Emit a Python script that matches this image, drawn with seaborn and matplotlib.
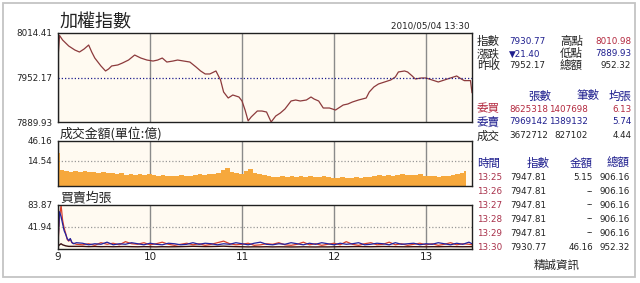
import numpy as np
import pandas as pd
import matplotlib
matplotlib.use("Agg")
import matplotlib.pyplot as plt
import seaborn as sns
from matplotlib.patches import Rectangle

sns.set_theme(style="white")
plt.rcParams["font.family"] = ["DejaVu Sans"]
CJK = ["Noto Sans CJK TC", "DejaVu Sans"]

# ---------------- data ----------------
price_times = ["09:00", "09:01", "09:03", "09:07", "09:11", "09:14", "09:17", "09:20",
               "09:22", "09:24", "09:28", "09:31", "09:33", "09:35", "09:39", "09:42",
               "09:46", "09:50", "09:54", "09:58", "10:02", "10:05", "10:08", "10:11",
               "10:15", "10:18", "10:22", "10:26", "10:30", "10:33", "10:36", "10:39",
               "10:43", "10:46", "10:48", "10:51", "10:54", "10:58", "11:00", "11:02",
               "11:04", "11:06", "11:10", "11:13", "11:16", "11:19", "11:22", "11:25",
               "11:28", "11:32", "11:35", "11:38", "11:42", "11:45", "11:47", "11:50",
               "11:53", "11:57", "12:01", "12:06", "12:09", "12:12", "12:16", "12:21",
               "12:23", "12:26", "12:29", "12:33", "12:37", "12:40", "12:42", "12:46",
               "12:48", "12:51", "12:53", "12:57", "13:00", "13:04", "13:08", "13:12",
               "13:16", "13:20", "13:23", "13:25", "13:29", "13:30"]
price_values = [7979.4, 8010.98, 8004.6, 7996.2, 7990.6, 7987.8, 7992.0, 7997.6,
                7987.8, 7979.4, 7968.3, 7961.3, 7964.1, 7968.3, 7969.7, 7972.4,
                7976.6, 7983.6, 7979.4, 7976.6, 7975.2, 7976.6, 7979.4, 7973.8,
                7975.2, 7976.6, 7975.2, 7973.8, 7966.9, 7961.3, 7957.1, 7957.1,
                7961.3, 7948.7, 7931.9, 7923.5, 7927.7, 7924.9, 7919.3, 7906.7,
                7891.5, 7897.0, 7905.3, 7905.3, 7903.9, 7889.93, 7898.3, 7902.5,
                7908.1, 7919.3, 7920.7, 7919.3, 7920.7, 7924.9, 7922.1, 7919.3,
                7909.5, 7909.5, 7906.7, 7913.7, 7915.1, 7917.9, 7920.7, 7923.5,
                7931.9, 7938.9, 7943.1, 7945.9, 7948.7, 7952.9, 7959.9, 7961.3,
                7959.9, 7954.3, 7950.1, 7951.5, 7951.5, 7948.7, 7945.9, 7948.7,
                7951.5, 7954.3, 7950.1, 7947.81, 7947.81, 7930.77]
prev_close = 7952.17
price_ticks = [8014.41, 7952.17, 7889.93]

# per-minute traded amount (億), sampled every 3 minutes from 09:01
vol_grid_minutes = list(range(1, 263, 3))
vol_grid_values = [5.9, 5.0, 4.6, 5.2, 4.4, 4.8, 4.2, 4.5, 3.9, 4.2, 3.6, 3.9, 3.3, 3.6,
                   3.0, 3.4, 2.9, 3.2, 2.8, 3.1, 2.6, 2.4, 2.7, 2.2, 2.5, 2.3, 2.6, 2.2,
                   2.5, 2.8, 3.3, 3.0, 3.5, 3.1, 3.6, 5.5, 7.5, 4.2, 3.6, 3.3, 5.0, 6.7,
                   3.9, 3.3, 2.8, 2.5, 2.0, 1.9, 2.1, 1.8, 2.4, 2.0, 2.2, 1.9, 2.1, 1.8,
                   2.0, 2.5, 1.9, 1.6, 1.5, 1.7, 1.5, 1.6, 1.8, 1.6, 1.7, 2.0, 2.4, 3.0,
                   2.5, 2.7, 2.4, 2.9, 3.3, 2.8, 2.6, 2.9, 3.5, 2.4, 2.1, 2.3, 2.0, 2.2,
                   2.4, 2.8, 3.2, 3.9]
vol_open = 25.0      # 09:00
vol_1325 = 5.15      # 13:25
vol_close = 46.16    # 13:30
vol_ticks = [46.16, 14.54]

# average lots per order: buy (委買), sell (委賣), trade (成交)
avg_minutes = list(range(0, 13)) + list(range(16, 269, 4)) + [270]
avg_buy = [10, 60, 83.87, 55, 40, 30, 18, 15, 19, 12, 11, 10, 9,
           8, 10, 7, 12, 9, 11, 8, 14,
           10, 9, 12, 8, 10, 13, 9, 7,
           9, 11, 8, 10, 7, 9, 12, 15,
           10, 8, 9, 11, 7, 8, 10, 9,
           12, 8, 7, 9, 13, 8, 10, 7,
           9, 11, 8, 14, 9, 7, 10, 12,
           8, 9, 13, 8, 10, 7, 9, 11,
           8, 10, 7, 9, 12, 8, 10, 9,
           8]
avg_sell = [12, 71, 62, 48, 35, 28, 20, 16, 20, 13, 10, 11, 12,
            11, 8, 10, 9, 13, 8, 10, 9,
            12, 10, 8, 11, 9, 8, 11, 10,
            8, 9, 12, 9, 11, 10, 8, 10,
            9, 12, 10, 8, 11, 13, 9, 8,
            10, 9, 12, 10, 8, 11, 9, 12,
            10, 8, 11, 9, 10, 12, 8, 9,
            11, 10, 8, 12, 9, 10, 11, 8,
            10, 9, 12, 10, 8, 11, 9, 13,
            10]
avg_trade = [5, 8, 10, 8, 7, 6, 5.5, 5, 5, 5, 5, 5, 5,
             5, 4.5, 4.8, 4.4, 4.6, 4.3, 4.5, 4.7,
             4.4, 4.2, 4.5, 4.3, 4.1, 4.4, 4.2, 4.3,
             4.5, 4.8, 5.2, 4.9, 4.6, 4.7, 5.0, 5.4,
             4.8, 4.5, 4.3, 4.0, 4.2, 4.1, 4.3, 4.0,
             4.2, 4.1, 3.9, 4.0, 4.2, 4.0, 3.9, 4.1,
             4.0, 4.2, 4.4, 4.3, 4.5, 4.6, 4.4, 4.3,
             4.5, 4.7, 4.6, 4.4, 4.3, 4.2, 4.4, 4.3,
             4.2, 4.4, 4.3, 4.5, 4.6, 4.4, 4.3, 4.4,
             4.4]
avg_ticks = [83.87, 41.94]

hour_ticks = [0, 60, 120, 180, 240]
hour_labels = ["9", "10", "11", "12", "13"]

# ---------------- helpers ----------------
def tmin(s):
    h, m = s.split(":")
    return (int(h) - 9) * 60 + int(m)

W, H = 640, 283
def rect(l, t, r, b):
    return [l / W, 1 - b / H, (r - l) / W, (b - t) / H]

NAVY = "#1e1e8e"
RED = "#b3283e"
DARK = "#222222"
FACE = "#fffaf1"
GRID = "#8a8a8a"

fig = plt.figure(figsize=(6.4, 2.83), dpi=100)
fig.patch.set_facecolor("white")
fig.patches.append(Rectangle((3 / W, 1 - 277 / H), 632 / W, 274 / H, transform=fig.transFigure,
                             fill=False, ec="#c4c4c4", lw=1.3))

ax1 = fig.add_axes(rect(58, 33, 472, 122))
ax2 = fig.add_axes(rect(58, 141, 472, 186))
ax3 = fig.add_axes(rect(58, 205, 472, 249))

for ax in (ax1, ax2, ax3):
    ax.set_facecolor(FACE)
    for sp in ax.spines.values():
        sp.set_color("#202020")
        sp.set_linewidth(1.0)
    ax.set_xlim(0, 270)
    ax.set_xticks(hour_ticks)
    ax.grid(axis="x", color=GRID, lw=1.0)
    ax.grid(axis="y", visible=False)
    ax.tick_params(axis="both", length=0, labelsize=6.3, labelcolor=DARK, pad=4.3)
    ax.set_axisbelow(True)

# price panel
pdf = pd.DataFrame({"t": [tmin(s) for s in price_times], "p": price_values})
sns.lineplot(data=pdf, x="t", y="p", ax=ax1, color="#8c3a3c", lw=0.9)
ax1.axhline(prev_close, color=NAVY, ls=(0, (1, 1.6)), lw=0.9)
ax1.set_ylim(price_ticks[-1], price_ticks[0])
ax1.set_yticks(price_ticks)
ax1.set_yticklabels([f"{v:.2f}" for v in price_ticks])
ax1.set_xticklabels([])
ax1.set_xlabel(""); ax1.set_ylabel("")

# volume panel (square-root scale)
vt = [0] + vol_grid_minutes + [265, 270]
vv = [vol_open] + vol_grid_values + [vol_1325, vol_close]
widths = []
for i, t in enumerate(vt):
    if i + 1 < len(vt) and vt[i + 1] - t <= 3:
        widths.append(vt[i + 1] - t)
    else:
        widths.append(1)
ax2.set_yscale("function", functions=(lambda v: np.sqrt(np.clip(v, 0, None)), lambda v: np.square(v)))
ax2.bar(vt, vv, width=widths, align="edge", color="#f6a83c", lw=0)
ax2.axhline(vol_ticks[1], color="#999999", ls=(0, (1, 1.6)), lw=0.9)
ax2.set_ylim(0, vol_ticks[0])
ax2.set_yticks(vol_ticks)
ax2.set_yticklabels([f"{v:.2f}" for v in vol_ticks])
ax2.set_xticklabels([])
ax2.minorticks_off()

# average lots panel
adf = pd.DataFrame({"t": avg_minutes, "buy": avg_buy, "sell": avg_sell, "trade": avg_trade})
sns.lineplot(data=adf, x="t", y="trade", ax=ax3, color="#3a1010", lw=1.0)
sns.lineplot(data=adf, x="t", y="buy", ax=ax3, color="#d8402c", lw=0.9)
sns.lineplot(data=adf, x="t", y="sell", ax=ax3, color="#2222a0", lw=0.9)
ax3.axhline(avg_ticks[1], color="#999999", ls=(0, (1, 1.6)), lw=0.9)
ax3.set_ylim(0, avg_ticks[0])
ax3.set_yticks(avg_ticks)
ax3.set_yticklabels([f"{v:.2f}" for v in avg_ticks])
ax3.set_xticklabels(hour_labels)
ax3.tick_params(axis="x", labelsize=7.5, pad=2.5)
ax3.set_xlabel(""); ax3.set_ylabel("")

# ---------------- texts ----------------
def T(x, y, s, color=DARK, size=6.3, ha="left", cjk=False):
    fig.text(x / W, 1 - y / H, s, color=color, fontsize=size, ha=ha, va="center",
             family=CJK if cjk else ["DejaVu Sans"])

LS = 8.3  # label size for CJK labels in the side table

T(60, 22, "加權指數", size=13, cjk=True)
T(470, 26, "2010/05/04 13:30", ha="right")
T(60, 134, "成交金額(單位:億)", size=9.3, cjk=True)
T(60, 198, "買賣均張", size=9.3, cjk=True)

T(477, 42, "指數", size=LS, cjk=True)
T(509, 42, "7930.77", color=NAVY)
T(560, 42, "高點", size=LS, cjk=True)
T(631, 42, "8010.98", color=RED, ha="right")
T(477, 54, "漲跌", size=LS, cjk=True)
T(509, 54, "▼21.40", color=NAVY)
T(560, 54, "低點", size=LS, cjk=True)
T(631, 54, "7889.93", color=NAVY, ha="right")
T(477, 66, "昨收", size=LS, cjk=True)
T(509, 66, "7952.17")
T(560, 66, "總額", size=LS, cjk=True)
T(631, 66, "952.32", ha="right")

T(540, 96, "張數", color=NAVY, size=LS, ha="center", cjk=True)
T(588, 96, "筆數", color=NAVY, size=LS, ha="center", cjk=True)
T(632, 96, "均張", color=NAVY, size=LS, ha="right", cjk=True)
rows = [(109, "委買", "8625318", "1407698", "6.13", RED),
        (122, "委賣", "7969142", "1389132", "5.74", NAVY),
        (136, "成交", "3672712", "827102", "4.44", DARK)]
for y, lab, a, b, c, col in rows:
    T(477, y, lab, color=col, size=LS, cjk=True)
    T(509, y, a, color=col)
    T(588, y, b, color=col, ha="right")
    T(632, y, c, color=col, ha="right")

T(477, 163, "時間", color=NAVY, size=LS, cjk=True)
T(550, 163, "指數", color=NAVY, size=LS, ha="right", cjk=True)
T(593, 163, "金額", color=NAVY, size=LS, ha="right", cjk=True)
T(630, 163, "總額", color=NAVY, size=LS, ha="right", cjk=True)
tbl_time = ["13:25", "13:26", "13:27", "13:28", "13:29", "13:30"]
tbl_index = ["7947.81", "7947.81", "7947.81", "7947.81", "7947.81", "7930.77"]
tbl_amount = ["5.15", "--", "--", "--", "--", "46.16"]
tbl_total = ["906.16", "906.16", "906.16", "906.16", "906.16", "952.32"]
tbl_y = [178, 192, 205, 219, 233, 247]
for y, a, b, c, d in zip(tbl_y, tbl_time, tbl_index, tbl_amount, tbl_total):
    T(477, y, a, color="#a8304a")
    T(510, y, b)
    T(593, y, c, ha="right")
    T(630, y, d, ha="right")

T(557, 265, "精誠資訊", size=LS, ha="center", cjk=True)

fig.savefig("out.png", dpi=100)
